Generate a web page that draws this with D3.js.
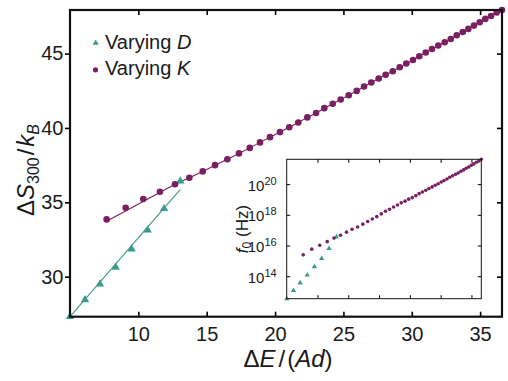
<!DOCTYPE html>
<html><head><meta charset="utf-8">
<script src="https://cdn.jsdelivr.net/npm/d3@7/dist/d3.min.js"></script>
<style>
html,body{margin:0;padding:0;background:#fff;}
svg{display:block;font-family:"Liberation Sans",Arial,Helvetica,sans-serif;}
</style></head>
<body>
<svg id="chart" width="508" height="381"></svg>
<script>
// ---- data ----
// Varying D (triangles)
const dE_D = [5.00, 6.10, 7.19, 8.34, 9.51, 10.68, 11.88, 13.07];
const S_D = [27.31, 28.44, 29.51, 30.63, 31.86, 33.14, 34.57, 36.43];
const log10F0_D = [12.53, 13.06, 13.56, 14.08, 14.61, 15.15, 15.80, 16.56];
// Varying K (circles)
const dE_K = [7.68, 9.07, 10.36, 11.58, 12.68, 13.73, 14.71, 15.61, 16.51, 17.36, 18.15, 18.90, 19.63, 20.36, 21.04, 21.70, 22.36, 23.00, 23.60, 24.22, 24.80, 25.39, 25.97, 26.51, 27.04, 27.58, 28.09, 28.61, 29.12, 29.60, 30.09, 30.55, 31.02, 31.48, 31.94, 32.41, 32.85, 33.29, 33.73, 34.14, 34.55, 34.97, 35.38, 35.80, 36.21, 36.60];
const S_K = [33.85, 34.63, 35.22, 35.71, 36.21, 36.65, 37.08, 37.50, 37.90, 38.29, 38.66, 39.03, 39.38, 39.72, 40.05, 40.37, 40.71, 41.01, 41.33, 41.62, 41.91, 42.20, 42.49, 42.79, 43.06, 43.32, 43.57, 43.81, 44.08, 44.33, 44.57, 44.82, 45.07, 45.31, 45.54, 45.76, 45.98, 46.23, 46.45, 46.66, 46.88, 47.11, 47.33, 47.53, 47.76, 47.93];
const log10F0_K = [15.39, 15.76, 16.02, 16.25, 16.48, 16.67, 16.87, 17.06, 17.21, 17.39, 17.56, 17.73, 17.88, 18.06, 18.23, 18.36, 18.51, 18.64, 18.78, 18.89, 19.02, 19.12, 19.25, 19.38, 19.49, 19.60, 19.71, 19.82, 19.93, 20.03, 20.14, 20.23, 20.34, 20.45, 20.55, 20.64, 20.73, 20.84, 20.93, 21.04, 21.12, 21.23, 21.32, 21.43, 21.51, 21.62];
// fitted lines
const fitD_x = [5.00, 13.07];
const fitD_y = [27.31, 35.87];
const fitK_start = [7.68, 33.73];
// ticks
const xTicks = [10, 15, 20, 25, 30, 35];
const yTicks = [30, 35, 40, 45];
const insetYTicks = [14, 16, 18, 20];
const legendLabels = ["Varying ", "Varying "];
const legendVars = ["D", "K"];

const colK = "#7a1f60", colD = "#3b9a8b";
const FONT = '"Liberation Sans",Arial,Helvetica,sans-serif';

const svg = d3.select("#chart");
// main scales
const x = d3.scaleLinear([5, 36.6], [70, 502]);
const y = d3.scaleLinear([27.31, 47.93], [316.7, 10]);

const line = d3.line().x(d => x(d[0])).y(d => y(d[1]));
const dataD = dE_D.map((d, i) => [d, S_D[i]]);
const dataK = dE_K.map((d, i) => [d, S_K[i]]);
const fitD = fitD_x.map((d, i) => [d, fitD_y[i]]);
const fitK = [fitK_start].concat(dataK.slice(4));

svg.append("path").attr("d", line(fitD)).attr("fill", "none").attr("stroke", colD).attr("stroke-width", 1.1);
svg.append("path").attr("d", line(fitK)).attr("fill", "none").attr("stroke", colK).attr("stroke-width", 1.1);

const tri = d3.symbol(d3.symbolTriangle, 30);
svg.append("g").selectAll("path").data(dataD).join("path")
  .attr("d", tri).attr("transform", d => `translate(${x(d[0])},${y(d[1])})`).attr("fill", colD);
svg.append("g").selectAll("circle").data(dataK).join("circle")
  .attr("cx", d => x(d[0])).attr("cy", d => y(d[1])).attr("r", 3.3).attr("fill", colK);

// main axes
function styleAxis(g) {
  g.select(".domain").remove();
  g.selectAll("line").attr("stroke", "#000").attr("stroke-width", 1.6);
  g.selectAll("text").attr("fill", "#1a1a1a").attr("font-size", 20).attr("font-family", FONT);
}
svg.append("g").attr("transform", "translate(0,316.7)")
  .call(d3.axisBottom(x).tickValues(xTicks).tickSize(-5).tickPadding(10)).call(styleAxis);
svg.append("g").attr("transform", "translate(0,10)")
  .call(d3.axisTop(x).tickValues(xTicks).tickSize(-5).tickFormat("")).call(styleAxis);
svg.append("g").attr("transform", "translate(70,0)")
  .call(d3.axisLeft(y).tickValues(yTicks).tickSize(5).tickPadding(1.5)).call(styleAxis);
svg.append("g").attr("transform", "translate(502,0)")
  .call(d3.axisRight(y).tickValues(yTicks).tickSize(-5).tickFormat("")).call(styleAxis);
svg.append("rect").attr("x", 70).attr("y", 10).attr("width", 432).attr("height", 306.7)
  .attr("fill", "none").attr("stroke", "#111").attr("stroke-width", 2.2);

// axis titles
const xt = svg.append("text").attr("x", 288).attr("y", 367).attr("text-anchor", "middle")
  .attr("font-size", 24).attr("fill", "#1a1a1a");
xt.append("tspan").text("Δ");
xt.append("tspan").attr("font-style", "italic").text("E");
xt.append("tspan").attr("dx", 3).text("/");
xt.append("tspan").attr("dx", 2).text("(");
xt.append("tspan").attr("font-style", "italic").text("Ad");
xt.append("tspan").text(")");

const yt = svg.append("text").attr("transform", "translate(34,170) rotate(-90)").attr("text-anchor", "middle")
  .attr("font-size", 24).attr("fill", "#1a1a1a");
yt.append("tspan").text("Δ");
yt.append("tspan").attr("font-style", "italic").text("S");
yt.append("tspan").attr("font-size", 16).attr("dy", 5).text("300");
yt.append("tspan").attr("dy", -5).attr("dx", 2).text("/");
yt.append("tspan").attr("dx", 2).attr("font-style", "italic").text("k");
yt.append("tspan").attr("font-style", "italic").attr("font-size", 16).attr("dy", 5).text("B");

// legend
const lg = svg.append("g");
lg.append("path").attr("d", d3.symbol(d3.symbolTriangle, 16)()).attr("transform", "translate(95.7,43)").attr("fill", colD);
lg.append("circle").attr("cx", 95.5).attr("cy", 69.8).attr("r", 2.6).attr("fill", colK);
[48.5, 75.2].forEach((yy, i) => {
  const t = lg.append("text").attr("x", 105).attr("y", yy).attr("font-size", 20).attr("fill", "#1a1a1a");
  t.append("tspan").text(legendLabels[i]);
  t.append("tspan").attr("font-style", "italic").text(legendVars[i]);
});

// ---- inset ----
const xi = d3.scaleLinear([5, 36.6], [286.7, 481.3]);
const yi = d3.scaleLog([Math.pow(10, 12.53), Math.pow(10, 21.62)], [298.7, 159.3]);
const inset = svg.append("g");
inset.append("rect").attr("x", 286.7).attr("y", 159.3).attr("width", 194.6).attr("height", 139.4).attr("fill", "#fff");
inset.append("g").selectAll("path").data(dE_D).join("path")
  .attr("d", d3.symbol(d3.symbolTriangle, 12))
  .attr("transform", (d, i) => `translate(${xi(d)},${yi(Math.pow(10, log10F0_D[i]))})`).attr("fill", colD);
inset.append("g").selectAll("circle").data(dE_K).join("circle")
  .attr("cx", d => xi(d)).attr("cy", (d, i) => yi(Math.pow(10, log10F0_K[i]))).attr("r", 1.8).attr("fill", colK);

function styleInset(g) {
  g.select(".domain").remove();
  g.selectAll("line").attr("stroke", "#000").attr("stroke-width", 1);
}
const yTickVals = insetYTicks.map(e => Math.pow(10, e));
inset.append("g").attr("transform", "translate(0,298.7)")
  .call(d3.axisBottom(xi).tickValues(xTicks).tickSize(-3.5).tickFormat("")).call(styleInset);
inset.append("g").attr("transform", "translate(0,159.3)")
  .call(d3.axisTop(xi).tickValues(xTicks).tickSize(-3.5).tickFormat("")).call(styleInset);
inset.append("g").attr("transform", "translate(481.3,0)")
  .call(d3.axisRight(yi).tickValues(yTickVals).tickSize(-3.5).tickFormat("")).call(styleInset);
const yl = inset.append("g").attr("transform", "translate(286.7,0)")
  .call(d3.axisLeft(yi).tickValues(yTickVals).tickSize(-3.5).tickPadding(10)).call(styleInset);
yl.selectAll("text").each(function(d) {
  const t = d3.select(this).text(null).attr("fill", "#1a1a1a").attr("font-size", 15).attr("dy", "0.4em")
    .attr("font-family", FONT);
  t.append("tspan").text("10");
  t.append("tspan").attr("font-size", 11).attr("dy", -6).text(String(Math.round(Math.log10(d))));
});
inset.append("rect").attr("x", 286.7).attr("y", 159.3).attr("width", 194.6).attr("height", 139.4)
  .attr("fill", "none").attr("stroke", "#111").attr("stroke-width", 1);

const it = inset.append("text").attr("transform", "translate(248,229) rotate(-90)").attr("text-anchor", "middle")
  .attr("font-size", 17).attr("fill", "#1a1a1a");
it.append("tspan").attr("font-style", "italic").text("f");
it.append("tspan").attr("font-size", 12).attr("dy", 3).text("0");
it.append("tspan").attr("dy", -3).text(" (Hz)");
</script>
</body></html>
